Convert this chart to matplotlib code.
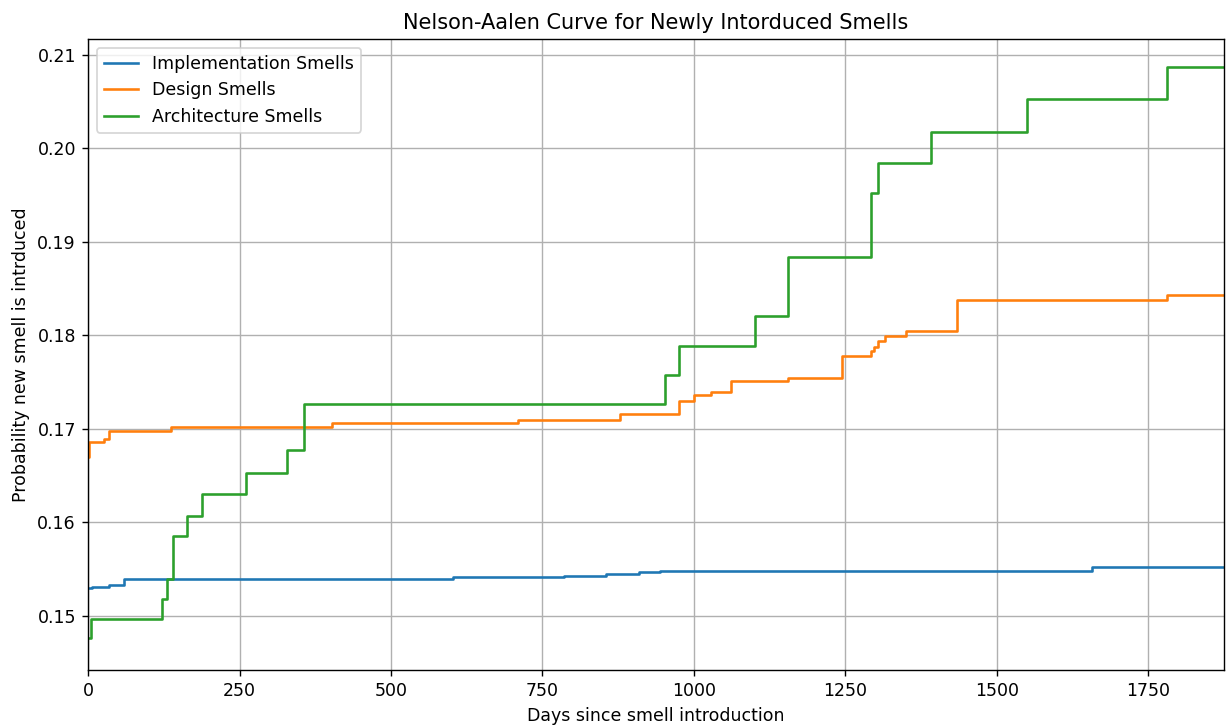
import matplotlib
matplotlib.use("Agg")
import matplotlib.pyplot as plt

# step curves (days, cumulative hazard)
impl_t = [0, 7, 34, 59, 450, 602, 785, 855, 909, 944, 1657, 1875]
impl_v = [0.1530, 0.1531, 0.1533, 0.1539, 0.1540, 0.1542, 0.1543, 0.1545, 0.1547, 0.1548, 0.1552, 0.1552]

design_t = [0, 2, 27, 34, 137, 403, 710, 878, 976, 1000, 1028, 1062, 1156,
            1244, 1292, 1297, 1303, 1316, 1350, 1434, 1781, 1875]
design_v = [0.1670, 0.1686, 0.1689, 0.1698, 0.1702, 0.1706, 0.1710, 0.1716, 0.1730, 0.1736, 0.1740, 0.1751, 0.1755,
            0.1778, 0.1783, 0.1788, 0.1794, 0.1799, 0.1805, 0.1838, 0.1843, 0.1843]

arch_t = [0, 5, 122, 131, 140, 163, 188, 261, 328, 356, 953, 976, 1100, 1156,
          1292, 1304, 1392, 1550, 1781, 1875]
arch_v = [0.1476, 0.1497, 0.1518, 0.1540, 0.1585, 0.1607, 0.1630, 0.1653, 0.1677, 0.1727, 0.1758, 0.1789, 0.1821, 0.1884,
          0.1952, 0.1985, 0.2018, 0.2053, 0.2087, 0.2087]

# reference looks like a default figure rendered at 125 dpi
fig = plt.figure(figsize=(9.824, 5.8), dpi=125)
ax = fig.add_axes([0.0717, 0.0759, 0.9251, 0.8703])

ax.step(impl_t, impl_v, where="post", label="Implementation Smells")
ax.step(design_t, design_v, where="post", label="Design Smells")
ax.step(arch_t, arch_v, where="post", label="Architecture Smells")

ax.set_xlim(0, 1875)
ax.set_ylim(0.14422, 0.21171)
ax.grid(True)
ax.legend(loc="upper left")
ax.set_title("Nelson-Aalen Curve for Newly Intorduced Smells")
ax.set_xlabel("Days since smell introduction")
ax.set_ylabel("Probability new smell is intrduced")

fig.savefig("out.png", dpi=125)
